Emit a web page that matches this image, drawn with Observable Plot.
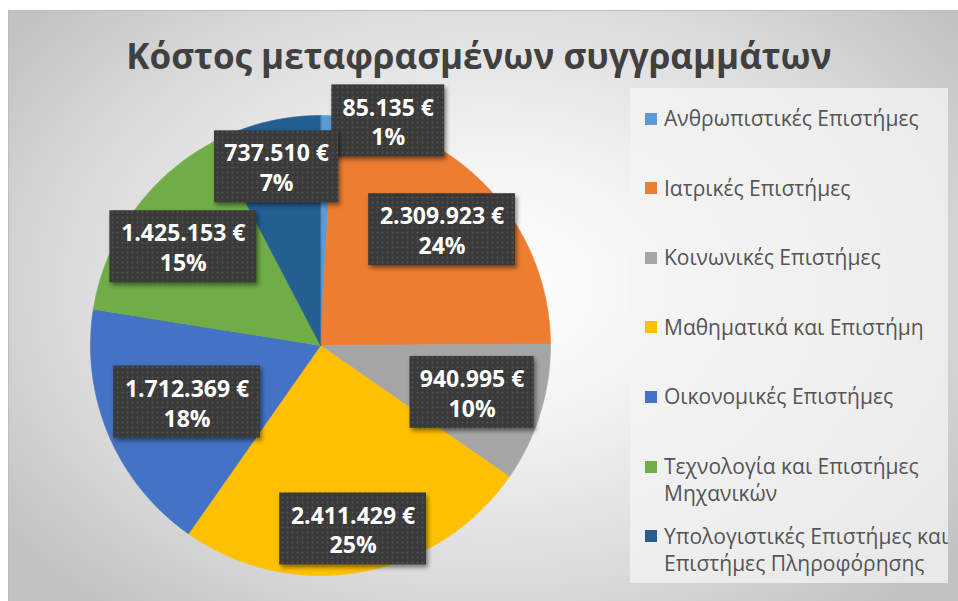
<!DOCTYPE html>
<html>
<head>
<meta charset="utf-8">
<script src="https://cdn.jsdelivr.net/npm/d3@7"></script>
<script src="https://cdn.jsdelivr.net/npm/@observablehq/plot@0.6"></script>
<style>
  html, body { margin: 0; padding: 0; background: #ffffff; width: 958px; height: 601px; overflow: hidden; }
  #frame { position: absolute; left: 8px; top: 10px; width: 960px; height: 600px; border: 1px solid #bdbdbd;
    background: radial-gradient(ellipse 62% 70% at 50% 46%, #ffffff 0%, #f4f4f4 30%, #dbdbdb 70%, #c2c2c2 100%); }
  #chart { position: absolute; left: 0; top: 0; }
  #chart svg { background: transparent !important; overflow: visible; }
  #chart g[aria-label="rect"] rect { filter: drop-shadow(2px 3px 2px rgba(0,0,0,0.45)); }
  #title { position: absolute; left: 0; top: 34px; width: 958px; text-align: center; font-family: "Open Sans", sans-serif;
    font-weight: bold; font-size: 35px; line-height: 44px; color: #404040; }
  #legendBox { position: absolute; left: 630px; top: 88px; width: 318px; height: 495px; background: rgba(244,244,244,0.75); }
  .sw { position: absolute; width: 12px; height: 12px; left: 645px; }
  .lt { position: absolute; left: 664px; font-family: "Open Sans", sans-serif; font-size: 21px; line-height: 27px;
    color: #555555; white-space: pre; }
</style>
</head>
<body>
<div id="frame"></div>
<div id="chart"></div>
<div id="title">Κόστος μεταφρασμένων συγγραμμάτων</div>
<div id="legendBox"></div>
<div id="legend"></div>
<script>
// ---- data ----
const categories = [
  "Ανθρωπιστικές Επιστήμες",
  "Ιατρικές Επιστήμες",
  "Κοινωνικές Επιστήμες",
  "Μαθηματικά και Επιστήμη",
  "Οικονομικές Επιστήμες",
  "Τεχνολογία και Επιστήμες Μηχανικών",
  "Υπολογιστικές Επιστήμες και Επιστήμες Πληροφόρησης"
];
const costs = [85135, 2309923, 940995, 2411429, 1712369, 1425153, 737510];
const percentLabels = ["1%", "24%", "10%", "25%", "18%", "15%", "7%"];
const legendLabels = [
  "Ανθρωπιστικές Επιστήμες",
  "Ιατρικές Επιστήμες",
  "Κοινωνικές Επιστήμες",
  "Μαθηματικά και Επιστήμη",
  "Οικονομικές Επιστήμες",
  "Τεχνολογία και Επιστήμες\nΜηχανικών",
  "Υπολογιστικές Επιστήμες και\nΕπιστήμες Πληροφόρησης"
];
const colors = ["#5B9BD5", "#ED7D31", "#A5A5A5", "#FFC000", "#4472C4", "#70AD47", "#255E91"];

// ---- layout of data labels (best-fit placement, fraction of radius / angle nudge in degrees) ----
const labelRadius = [1.02, 0.73, 0.69, 0.81, 0.63, 0.735, 0.80];
const labelNudge = [15.2, 0, 0, 0, 0, 0, 0];

const locale = d3.formatLocale({decimal: ",", thousands: ".", grouping: [3], currency: ["", "\u00a0€"]});
const fmt = locale.format("$,.0f");

const arcs = d3.pie().sort(null).value(d => d)(costs);
const outline = [];
arcs.forEach((a, i) => {
  const n = Math.max(2, Math.ceil((a.endAngle - a.startAngle) / (Math.PI / 360)));
  outline.push({c: categories[i], x: 0, y: 0});
  for (let k = 0; k <= n; k++) {
    const t = a.startAngle + (a.endAngle - a.startAngle) * k / n;
    outline.push({c: categories[i], x: Math.sin(t), y: Math.cos(t)});
  }
});

const pxPerUnit = 230;
const labels = arcs.map((a, i) => {
  const mid = (a.startAngle + a.endAngle) / 2 + labelNudge[i] * Math.PI / 180;
  const r = labelRadius[i];
  const line1 = fmt(costs[i]);
  const w = 22.5 + 11.3 * line1.length;
  const x = r * Math.sin(mid), y = r * Math.cos(mid);
  return {
    x, y, text: line1 + "\n" + percentLabels[i],
    x1: x - w / 2 / pxPerUnit, x2: x + w / 2 / pxPerUnit,
    y1: y - 36 / pxPerUnit, y2: y + 36 / pxPerUnit
  };
});

const plot = Plot.plot({
  width: 958, height: 601,
  marginLeft: 90, marginRight: 408, marginTop: 115, marginBottom: 26,
  x: {domain: [-1, 1], axis: null},
  y: {domain: [-1, 1], axis: null},
  color: {domain: categories, range: colors},
  style: {background: "transparent", overflow: "visible"},
  marks: [
    Plot.line(outline, {x: "x", y: "y", z: "c", fill: "c", stroke: "c", strokeWidth: 0.6, curve: "linear-closed"}),
    Plot.rect(labels, {x1: "x1", x2: "x2", y1: "y1", y2: "y2", fill: "#3c3c3c"}),
    Plot.text(labels, {x: "x", y: "y", text: "text", fill: "white", fontSize: 23, fontWeight: "bold",
      fontFamily: "Open Sans", lineHeight: 1.3})
  ]
});

// dotted texture of the label boxes
const svg = d3.select(plot);
const defs = svg.insert("defs", ":first-child");
const pat = defs.append("pattern").attr("id", "dots").attr("width", 5).attr("height", 5).attr("patternUnits", "userSpaceOnUse");
pat.append("rect").attr("width", 5).attr("height", 5).attr("fill", "#3a3a3a");
pat.append("circle").attr("cx", 2.5).attr("cy", 2.5).attr("r", 0.9).attr("fill", "#555555");
svg.selectAll('g[aria-label="rect"] rect').attr("fill", "url(#dots)");

document.getElementById("chart").appendChild(plot);

// legend
const colorScale = plot.scale("color");
const legend = document.getElementById("legend");
legendLabels.forEach((lab, i) => {
  const top = 105 + i * 69.6;
  const sw = document.createElement("div");
  sw.className = "sw";
  sw.style.top = (top + 13.5 - 6) + "px";
  sw.style.background = colorScale.apply(categories[i]);
  legend.appendChild(sw);
  const t = document.createElement("div");
  t.className = "lt";
  t.style.top = top + "px";
  t.textContent = lab;
  legend.appendChild(t);
});
</script>
</body>
</html>
